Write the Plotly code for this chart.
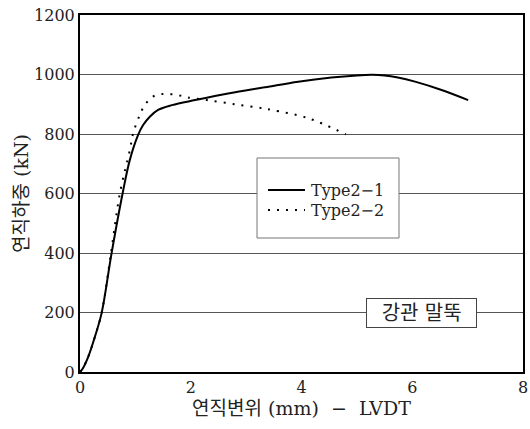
import plotly.graph_objects as go

# Data
x_type21 = [0, 0.05, 0.15, 0.27, 0.39, 0.57, 0.77, 0.90, 1.05, 1.14, 1.26, 1.41, 1.66, 2.08, 2.7, 3.34, 3.94, 4.54, 5.0, 5.27, 5.5, 5.74, 6.05, 6.53, 7.01]
y_type21 = [0, 12, 52, 119, 198, 399, 601, 713, 797, 830, 858, 881, 897, 914, 937, 957, 976, 990, 997, 999, 997, 990, 976, 948, 914]

x_type22 = [0, 0.05, 0.15, 0.27, 0.39, 0.56, 0.72, 0.90, 0.96, 1.08, 1.17, 1.31, 1.47, 1.64, 1.81, 1.95, 2.29, 2.8, 3.31, 3.46, 4.12, 4.80]
y_type22 = [0, 12, 52, 119, 198, 400, 600, 746, 802, 864, 897, 925, 934, 934, 929, 923, 914, 900, 886, 881, 853, 799]

x_ticks = [0, 2, 4, 6, 8]
y_ticks = [0, 200, 400, 600, 800, 1000, 1200]

series_names = ["Type2\u22121", "Type2\u22122"]
x_title = "연직변위\u00a0(mm)\u00a0\u00a0\u2212\u00a0\u00a0LVDT"
y_title = "연직하중\u00a0(kN)"
note_text = "\u00a0\u00a0강관\u00a0말뚝\u00a0\u00a0"

FONT = "'DejaVu Serif', 'Noto Sans CJK KR', serif"

# Figure fills the whole window (body margin removed below). Plot area in pixels:
W, H = 530, 429
L, R, T, B = 80, 523, 15, 372


def px(xs):
    """pixel x -> paper fraction"""
    return (xs - L) / (R - L)


def py(ys):
    """pixel y -> paper fraction"""
    return (B - ys) / (B - T)


fig = go.Figure()
fig.add_trace(go.Scatter(
    x=x_type21, y=y_type21, name=series_names[0], mode="lines", showlegend=False,
    line=dict(color="black", width=2, shape="spline", smoothing=1.0),
))
fig.add_trace(go.Scatter(
    x=x_type22, y=y_type22, name=series_names[1], mode="lines", showlegend=False,
    line=dict(color="black", width=2, shape="spline", smoothing=1.0, dash="2px,7px"),
))

# Legend box drawn by hand (matches the reference's compact layout)
fig.add_shape(type="rect", xref="paper", yref="paper",
              x0=px(257), x1=px(399), y0=py(238), y1=py(158),
              line=dict(color="#777", width=1), fillcolor="white", layer="above")
legend_rows = [190, 210]
legend_dash = ["solid", "2px,7px"]
for name, yrow, dash in zip(series_names, legend_rows, legend_dash):
    fig.add_shape(type="line", xref="paper", yref="paper",
                  x0=px(268), x1=px(305), y0=py(yrow), y1=py(yrow),
                  line=dict(color="black", width=2, dash=dash), layer="above")
    fig.add_annotation(xref="paper", yref="paper", x=px(309), y=py(yrow),
                       xanchor="left", yanchor="middle", text=name, showarrow=False,
                       font=dict(family=FONT, size=16, color="#222"))

fig.add_annotation(x=6.16, y=200, text=note_text, showarrow=False,
                   font=dict(family=FONT, size=20, color="#222"),
                   bgcolor="white", bordercolor="#444", borderwidth=1, borderpad=2)

fig.update_layout(
    width=W, height=H,
    margin=dict(l=L, r=W - R, t=T, b=H - B),
    paper_bgcolor="white", plot_bgcolor="white",
    font=dict(family=FONT, size=16, color="#222"),
    showlegend=False,
    xaxis=dict(range=[0, 8], tickvals=x_ticks, showgrid=False, zeroline=False,
               showline=True, linecolor="black", linewidth=2, mirror=True,
               ticks="", automargin=False,
               tickfont=dict(size=16),
               title=dict(text=x_title, standoff=0, font=dict(size=19))),
    yaxis=dict(range=[0, 1200], tickvals=y_ticks, showgrid=True, gridcolor="#555",
               gridwidth=1, zeroline=False, showline=True, linecolor="black",
               linewidth=2, mirror=True, ticks="", automargin=False,
               tickfont=dict(size=16),
               title=dict(text=y_title, standoff=0, font=dict(size=19))),
)

fig.write_html("out.html",
               config={"displayModeBar": False, "staticPlot": True},
               post_script="document.body.style.margin='0';document.body.style.overflow='hidden';")
